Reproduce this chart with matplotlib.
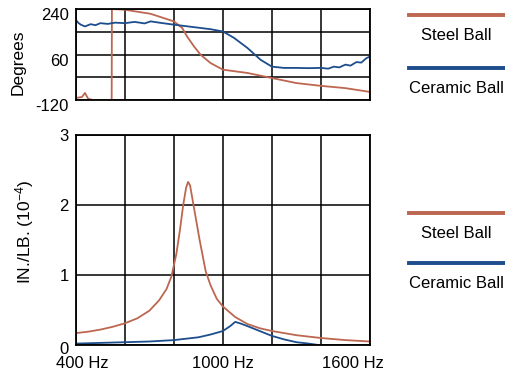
import matplotlib
matplotlib.use('Agg')
import matplotlib.pyplot as plt
import matplotlib.transforms as mtransforms
from matplotlib.lines import Line2D

plt.rcParams['font.family'] = ['Liberation Sans', 'DejaVu Sans']
plt.rcParams['mathtext.default'] = 'regular'

steel_color = '#bd6650'
ceramic_color = '#1d4d8c'

# phase (degrees) vs frequency
steel_phase_hz = [400, 425, 437, 450, 470, 546, 547, 600, 705, 800, 834, 854, 882, 909, 950,
                  1000, 1100, 1200, 1300, 1400, 1500, 1600]
steel_phase = [-112, -108, -92, -115, -120, -120, 240, 237, 221, 191, 165, 131, 92, 59, 26,
               0, -13, -33, -53, -64, -73, -88]

ceramic_phase_hz = [400, 410, 420, 437, 460, 480, 500, 530, 560, 600, 640, 680, 705, 740, 800,
                    850, 909, 950, 1000, 1045, 1100, 1154, 1200, 1249, 1300, 1350, 1400,
                    1430, 1453, 1475, 1500, 1521, 1545, 1565, 1585, 1600]
ceramic_phase = [197, 185, 178, 171, 180, 176, 184, 181, 186, 184, 189, 183, 191, 186, 178,
                 172, 165, 160, 151, 126, 86, 39, 12, 7, 7, 6, 7,
                 4, 12, 9, 20, 16, 30, 28, 45, 52]

# magnitude (10^-4 in/lb) vs frequency
steel_mag_hz = [400, 450, 500, 550, 600, 650, 700, 740, 770, 790, 810, 825, 838, 850, 858, 866,
                880, 905, 930, 950, 975, 1000, 1050, 1100, 1150, 1200, 1300, 1400, 1500, 1600]
steel_mag = [0.17, 0.19, 0.22, 0.26, 0.31, 0.38, 0.49, 0.64, 0.80, 0.98, 1.30, 1.65, 2.00, 2.25,
             2.33, 2.28, 2.00, 1.50, 1.05, 0.85, 0.66, 0.55, 0.40, 0.30, 0.24, 0.20, 0.14,
             0.10, 0.07, 0.05]

ceramic_mag_hz = [400, 500, 600, 700, 800, 850, 900, 950, 1000, 1030, 1050, 1070, 1100, 1150,
                  1200, 1250, 1300, 1350, 1390]
ceramic_mag = [0.02, 0.03, 0.04, 0.05, 0.07, 0.09, 0.11, 0.15, 0.20, 0.27, 0.33, 0.31, 0.27,
               0.20, 0.13, 0.08, 0.04, 0.02, 0.0]

freq_ticks = [400, 600, 800, 1000, 1200, 1400, 1600]
freq_labels = ['400 Hz', '', '', '1000 Hz', '', '', '1600 Hz']
phase_ticks = [-120, -30, 60, 150, 240]
phase_labels = ['-120', '', '60', '', '240']
mag_ticks = [0, 1, 2, 3]

fig = plt.figure(figsize=(5.06, 3.75), dpi=100)
ax1 = fig.add_axes([0.150, 0.7333, 0.581, 0.2427])
ax2 = fig.add_axes([0.150, 0.080, 0.581, 0.560])

for ax in (ax1, ax2):
    ax.set_xlim(400, 1600)
    ax.set_xticks(freq_ticks)
    ax.grid(True, color='black', linewidth=1.1)
    ax.tick_params(length=0, labelsize=12, pad=5)
    for s in ax.spines.values():
        s.set_linewidth(1.3)
    ax.set_axisbelow(True)

ax1.plot(steel_phase_hz, steel_phase, color=steel_color, lw=1.3)
ax1.plot(ceramic_phase_hz, ceramic_phase, color=ceramic_color, lw=1.3)
ax1.set_ylim(-120, 240)
ax1.set_yticks(phase_ticks)
ax1.set_yticklabels(phase_labels)
ax1.set_xticklabels([])
ax1.set_ylabel('Degrees', fontsize=12.5, va='center')
ax1.yaxis.set_label_coords(-0.197, 0.42)

ax2.plot(steel_mag_hz, steel_mag, color=steel_color, lw=1.3)
ax2.plot(ceramic_mag_hz, ceramic_mag, color=ceramic_color, lw=1.3)
ax2.set_ylim(0, 3)
ax2.set_yticks(mag_ticks)
ax2.set_xticklabels(freq_labels)
ax2.tick_params(axis='x', pad=8)
ax2.set_ylabel('IN./LB. (10$^{-4}$)', fontsize=12.5, va='center')
ax2.yaxis.set_label_coords(-0.175, 0.54)

# nudge tick labels the way the original sits
for lbl in ax1.get_yticklabels():
    lbl.set_transform(lbl.get_transform() + mtransforms.ScaledTranslation(0, -0.05, fig.dpi_scale_trans))
xl = ax2.get_xticklabels()
xl[0].set_transform(xl[0].get_transform() + mtransforms.ScaledTranslation(0.06, 0, fig.dpi_scale_trans))
xl[-1].set_transform(xl[-1].get_transform() + mtransforms.ScaledTranslation(-0.17, 0, fig.dpi_scale_trans))
yl = ax2.get_yticklabels()
yl[0].set_transform(yl[0].get_transform() + mtransforms.ScaledTranslation(0, -0.03, fig.dpi_scale_trans))

# legends: line above label, one set per panel
for y_line, label, color in [(0.960, 'Steel Ball', steel_color),
                             (0.819, 'Ceramic Ball', ceramic_color),
                             (0.432, 'Steel Ball', steel_color),
                             (0.299, 'Ceramic Ball', ceramic_color)]:
    fig.add_artist(Line2D([0.808, 0.998], [y_line, y_line], color=color, lw=2.8,
                          transform=fig.transFigure))
    fig.text(0.902, y_line - 0.054, label, ha='center', va='center', fontsize=12)

fig.savefig('out.png', dpi=100)
